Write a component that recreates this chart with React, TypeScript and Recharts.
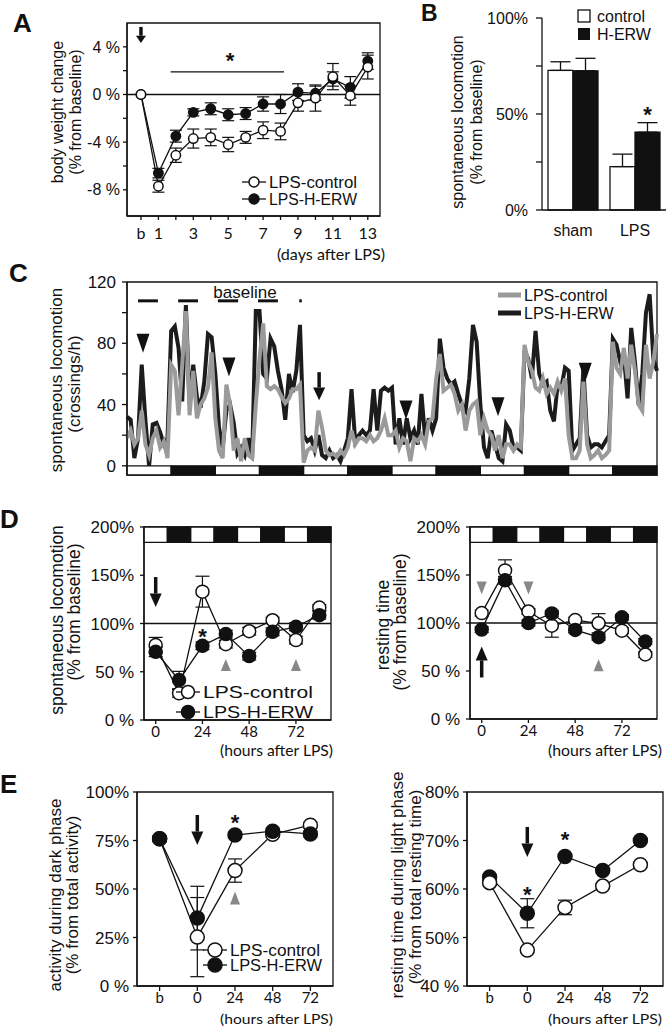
import { LineChart, Line, BarChart, Bar, XAxis, YAxis, ErrorBar, ReferenceLine, ReferenceArea, ReferenceDot, LabelList } from "recharts";

const SANS = "'Liberation Sans', Arial, sans-serif";
const ALT = "Lato, 'Open Sans', sans-serif";
const INK = "#111";
const GREY = "#9a9a9a";

// ---- A: body weight change (% from baseline); day 0 is the baseline "b"
const days = [0, 1, 2, 3, 4, 5, 6, 7, 8, 9, 10, 11, 12, 13];
const bwControl = [0, -7.7, -5.1, -3.7, -3.6, -4.2, -3.6, -3.0, -3.1, -0.7, -0.3, 1.5, -0.1, 2.3];
const bwControlErr = [0, 0.5, 0.6, 0.8, 0.7, 0.6, 0.5, 0.7, 0.7, 0.7, 1.1, 1.1, 0.8, 1.0];
const bwErw = [0, -6.6, -3.5, -1.5, -1.2, -1.7, -1.6, -0.8, -0.8, 0.2, 0.1, 1.3, 0.6, 2.8];
const bwErwErr = [0, 0.4, 0.5, 0.3, 0.5, 0.5, 0.5, 0.6, 0.8, 0.7, 0.6, 0.6, 0.9, 0.7];

// ---- B: spontaneous locomotion
const groups = ["sham", "LPS"];
const locoControl = [72.7, 22.6];
const locoControlErr = [4.5, 6.5];
const locoErw = [72.5, 40.5];
const locoErwErr = [6.5, 5];

// ---- C: hourly crossings, 6 days (hour 0..144)
const erwHourly = [
  32, 30, 5, 18, 66, 30, 0, 27, 28, 22, 14, 18,
  88, 91, 77, 42, 105, 40, 66, 45, 38, 55, 86, 84,
  60, 25, 12, 36, 40, 28, 8, 12, 7, 18, 5, 101,
  101, 60, 57, 83, 78, 62, 50, 30, 60, 48, 62, 92,
  20, 16, 18, 10, 20, 7, 5, 10, 5, 7, 3, 10,
  18, 50, 16, 20, 23, 20, 23, 50, 23, 49, 51, 49,
  51, 14, 31, 14, 31, 18, 23, 14, 47, 18, 31, 23,
  31, 83, 64, 57, 53, 55, 47, 40, 36, 57, 92, 81,
  40, 12, 5, 23, 14, 5, 3, 27, 23, 12, 12, 10,
  75, 70, 57, 88, 60, 53, 55, 36, 29, 53, 51, 64,
  62, 10, 14, 18, 64, 20, 12, 14, 14, 12, 16, 20,
  83, 79, 68, 72, 44, 90, 68, 40, 60, 100, 112, 70, 62,
];
const controlHourly = [
  18, 23, 14, 18, 36, 14, 7, 18, 23, 12, 16, 5,
  66, 62, 33, 66, 101, 33, 62, 31, 40, 44, 51, 74,
  31, 10, 5, 53, 40, 10, 18, 3, 18, 7, 5, 40,
  70, 93, 52, 50, 52, 50, 45, 41, 44, 50, 50, 53,
  2, 10, 12, 10, 36, 25, 10, 7, 8, 6, 10, 7,
  12, 23, 14, 18, 18, 16, 20, 16, 18, 23, 31, 20,
  20, 23, 12, 18, 16, 3, 18, 16, 20, 14, 29, 31,
  57, 73, 49, 51, 53, 47, 36, 40, 23, 36, 40, 42,
  20, 31, 23, 20, 10, 20, 5, 14, 14, 10, 14, 12,
  79, 68, 62, 51, 49, 57, 47, 51, 47, 55, 49, 57,
  20, 5, 5, 10, 55, 14, 5, 7, 10, 5, 7, 10,
  81, 64, 60, 77, 57, 79, 62, 40, 36, 79, 57, 68, 86,
];

// ---- D: 12 h bins after LPS
const hours12 = [0, 12, 24, 36, 48, 60, 72, 84];
const locoD_control = [77.6, 27.6, 133, 78.6, 92, 103.4, 82.8, 116.5];
const locoD_controlErr = [8, 4, 16, 4, 4, 3, 4, 3];
const locoD_erw = [70.7, 41.4, 76.9, 89, 66.2, 91.4, 96.6, 108.6];
const locoD_erwErr = [5, 9, 4, 4, 4, 4, 4, 4];
const restD_control = [110.3, 154.8, 112, 97.2, 103, 99.7, 92, 67.2];
const restD_controlErr = [3, 11, 3, 12, 3, 10, 3, 3];
const restD_erw = [93.1, 144.5, 100, 110, 92.8, 85.2, 105.9, 80.7];
const restD_erwErr = [3, 4, 3, 3, 3, 3, 3, 3];

// ---- E: daily phase distribution
const eLabels = ["b", "0", "24", "48", "72"];
const darkAct_control = [75.9, 25.2, 59.5, 78.2, 82.9];
const darkAct_controlErr = [1.5, 20.4, 6, 1.5, 1.5];
const darkAct_erw = [75.9, 35, 77.8, 79.8, 78.4];
const darkAct_erwErr = [1.5, 16.4, 1.5, 1.5, 1.5];
const lightRest_control = [61.3, 47.4, 56.2, 60.6, 65];
const lightRest_controlErr = [0.5, 0.5, 1.5, 0.5, 0.5];
const lightRest_erw = [62.5, 55, 66.7, 63.8, 70];
const lightRest_erwErr = [0.5, 3, 0.5, 0.5, 0.5];

const bwData = days.map((d, i) => ({ day: d, c: bwControl[i], ce: bwControlErr[i], h: bwErw[i], he: bwErwErr[i] }));
const bData = groups.map((g, i) => ({ g, c: locoControl[i], ce: [0, locoControlErr[i]], h: locoErw[i], he: [0, locoErwErr[i]] }));
const cData = erwHourly.map((v, i) => ({ t: i, h: v, c: controlHourly[i] }));
const dLoco = hours12.map((t, i) => ({ t, c: locoD_control[i], ce: locoD_controlErr[i], h: locoD_erw[i], he: locoD_erwErr[i] }));
const dRest = hours12.map((t, i) => ({ t, c: restD_control[i], ce: restD_controlErr[i], h: restD_erw[i], he: restD_erwErr[i] }));
const eDark = eLabels.map((_, i) => ({ i, c: darkAct_control[i], ce: darkAct_controlErr[i], h: darkAct_erw[i], he: darkAct_erwErr[i] }));
const eRest = eLabels.map((_, i) => ({ i, c: lightRest_control[i], ce: lightRest_controlErr[i], h: lightRest_erw[i], he: lightRest_erwErr[i] }));

// position a chart so that its plot area lands on the given box
const place = (x0: number, y0: number, x1: number, y1: number, l: number, t: number, r: number, b: number) => ({
  style: { position: "absolute" as const, left: x0 - l, top: y0 - t },
  width: x1 - x0 + l + r,
  height: y1 - y0 + t + b,
  top: t,
});

const openDot = (r: number) => ({ r, fill: "#fff", stroke: INK, strokeWidth: 1.5 });
const fullDot = (r: number) => ({ r, fill: INK, stroke: INK, strokeWidth: 1.5 });
const axisStroke = { stroke: INK, strokeWidth: 1.3 };
const tickFont = (fs: number) => ({ fontSize: fs, fill: INK, fontFamily: SANS });
const xTickFont = (fs: number) => ({ fontSize: fs, fill: INK, fontFamily: ALT });

const star = (fs: number) => (p: any) => (
  <text x={p.cx} y={p.cy + fs * 0.55} textAnchor="middle" fontSize={fs} fontWeight={700} fontFamily={SANS} fill={INK}>*</text>
);
const arrow = (len: number, hw: number, up = false) => (p: any) => {
  const s = up ? -1 : 1;
  const tip = p.cy + (s * len) / 2;
  const tail = p.cy - (s * len) / 2;
  const neck = tip - s * len * 0.45;
  return (
    <g>
      <line x1={p.cx} y1={tail} x2={p.cx} y2={neck} stroke={INK} strokeWidth={3.5} />
      <path d={`M${p.cx - hw},${neck} L${p.cx + hw},${neck} L${p.cx},${tip} Z`} fill={INK} />
    </g>
  );
};
const tri = (w: number, h: number, down: boolean, color: string) => (p: any) => {
  const s = down ? 1 : -1;
  return <path d={`M${p.cx - w / 2},${p.cy - (s * h) / 2} L${p.cx + w / 2},${p.cy - (s * h) / 2} L${p.cx},${p.cy + (s * h) / 2} Z`} fill={color} />;
};

const phasesC = Array.from({ length: 12 }, (_, i) => i * 12);
const phasesD = Array.from({ length: 8 }, (_, i) => i * 12 - 6);

const pA = place(127, 23, 380, 216, 127, 23, 4, 30);
const pB = place(542, 18, 666, 210, 60, 18, 1, 34);
const pC = place(127, 282, 657, 475, 60, 14, 5, 5);
const pD1 = place(144, 527, 331, 720, 60, 14, 2, 24);
const pD2 = place(470, 527, 657, 719, 60, 14, 2, 24);
const pE1 = place(137, 792, 333, 986, 60, 14, 2, 28);
const pE2 = place(467, 792, 663, 986, 60, 14, 2, 28);

const DPanel = ({ p, data, order, notes }: any) => (
  <div style={p.style}>
    <LineChart width={p.width} height={p.height} data={data} margin={{ top: p.top, right: 2, left: 0, bottom: 0 }}>
      <XAxis dataKey="t" type="number" domain={[-6, 90]} allowDataOverflow ticks={[0, 24, 48, 72]} interval={0} height={24}
        tickSize={4} tickMargin={2} tick={xTickFont(15)} axisLine={axisStroke} tickLine={axisStroke} />
      <YAxis type="number" domain={[0, 200]} allowDataOverflow ticks={[0, 50, 100, 150, 200]} interval={0} width={60}
        tickFormatter={(v: number) => (v === 0 ? "0 %" : v === 50 ? "50 %" : `${v}%`)}
        tickSize={4} tickMargin={6} tick={tickFont(17)} axisLine={axisStroke} tickLine={axisStroke} />
      <ReferenceArea x1={-6} x2={90} y1={0} y2={200} fill="none" stroke={INK} strokeWidth={1.3} />
      {phasesD.map((s, i) => (
        <ReferenceArea key={s} x1={s} x2={s + 12} y1={184} y2={200} fill={i % 2 ? INK : "#fff"} fillOpacity={1} stroke={INK} strokeWidth={1.3} />
      ))}
      <ReferenceLine y={100} stroke={INK} strokeWidth={1.3} />
      {order.map((k: string) => (
        <Line key={k} dataKey={k} type="linear" stroke={INK} strokeWidth={1.3} isAnimationActive={false} activeDot={false}
          dot={k === "c" ? openDot(6.5) : fullDot(6.5)}>
          <ErrorBar dataKey={k + "e"} width={7} stroke={INK} strokeWidth={1.2} direction="y" />
        </Line>
      ))}
      {notes}
    </LineChart>
  </div>
);

const EPanel = ({ p, data, domain, ticks, fmt, order, notes }: any) => (
  <div style={p.style}>
    <LineChart width={p.width} height={p.height} data={data} margin={{ top: p.top, right: 2, left: 0, bottom: 0 }}>
      <XAxis dataKey="i" type="number" domain={[-0.6, 4.6]} allowDataOverflow ticks={[0, 1, 2, 3, 4]} interval={0} height={28}
        tickFormatter={(v: number) => eLabels[v]} tickSize={5} tickMargin={1} tick={xTickFont(15)} axisLine={axisStroke} tickLine={axisStroke} />
      <YAxis type="number" domain={domain} allowDataOverflow ticks={ticks} interval={0} width={60} tickFormatter={fmt}
        tickSize={4} tickMargin={4} tick={tickFont(17)} axisLine={axisStroke} tickLine={axisStroke} />
      <ReferenceArea x1={-0.6} x2={4.6} y1={domain[0]} y2={domain[1]} fill="none" stroke={INK} strokeWidth={1.3} />
      {order.map((k: string) => (
        <Line key={k} dataKey={k} type="linear" stroke={INK} strokeWidth={1.3} isAnimationActive={false} activeDot={false}
          dot={k === "c" ? openDot(7) : fullDot(7)}>
          <ErrorBar dataKey={k + "e"} width={7} stroke={INK} strokeWidth={1.2} direction="y" />
        </Line>
      ))}
      {notes}
    </LineChart>
  </div>
);

const VTitle = ({ x, y, text, fs }: any) => (
  <text transform={`translate(${x},${y}) rotate(-90)`} textAnchor="middle" dominantBaseline="central" fontSize={fs} fontFamily={SANS} fill={INK}>{text}</text>
);

const LegendRow = ({ x, y, open, text, fs, r, w }: any) => (
  <g>
    <line x1={x - 12} x2={x + 12} y1={y} y2={y} stroke={INK} strokeWidth={1.3} />
    <circle cx={x} cy={y} r={r} fill={open ? "#fff" : INK} stroke={INK} strokeWidth={1.5} />
    <text x={x + 15} y={y} dominantBaseline="central" fontSize={fs} fontFamily={SANS} fill={INK} textLength={w} lengthAdjust="spacingAndGlyphs">{text}</text>
  </g>
);

export default function App() {
  return (
    <div style={{ position: "absolute", left: 0, top: 0, width: 667, height: 1027, background: "#fff", overflow: "hidden" }}>
      {/* A */}
      <div style={pA.style}>
        <LineChart width={pA.width} height={pA.height} data={bwData} margin={{ top: 23, right: 4, left: 0, bottom: 0 }}>
          <XAxis dataKey="day" type="number" domain={[-0.8, 13.7]} allowDataOverflow ticks={days} interval={0} height={30}
            tickFormatter={(v: number) => (v === 0 ? "b" : v % 2 ? String(v) : "")}
            tickSize={4} tickMargin={8} tick={xTickFont(16)} axisLine={axisStroke} tickLine={axisStroke} />
          <YAxis type="number" domain={[-10.2, 6]} allowDataOverflow ticks={[-8, -6, -4, -2, 0, 2, 4]} interval={0} width={127}
            tickFormatter={(v: number) => (v % 4 === 0 ? `${v} %` : "")}
            tickSize={4} tickMargin={3} tick={tickFont(16)} axisLine={axisStroke} tickLine={axisStroke} />
          <ReferenceArea x1={-0.8} x2={13.7} y1={-10.2} y2={6} fill="none" stroke={INK} strokeWidth={1.3} />
          <ReferenceLine y={0} stroke={INK} strokeWidth={1.3} />
          <ReferenceLine segment={[{ x: 1.7, y: 1.9 }, { x: 8.2, y: 1.9 }]} stroke={INK} strokeWidth={1.3} />
          <ReferenceDot x={5.1} y={3.2} r={0} ifOverflow="visible" shape={star(22)} />
          <ReferenceDot x={0} y={5} r={0} ifOverflow="visible" shape={arrow(16, 5)} />
          <Line dataKey="h" type="linear" stroke={INK} strokeWidth={1.3} isAnimationActive={false} activeDot={false} dot={fullDot(4.7)}>
            <ErrorBar dataKey="he" width={6} stroke={INK} strokeWidth={1.2} direction="y" />
          </Line>
          <Line dataKey="c" type="linear" stroke={INK} strokeWidth={1.3} isAnimationActive={false} activeDot={false} dot={openDot(4.7)}>
            <ErrorBar dataKey="ce" width={6} stroke={INK} strokeWidth={1.2} direction="y" />
          </Line>
        </LineChart>
      </div>

      {/* B */}
      <div style={pB.style}>
        <BarChart width={pB.width} height={pB.height} data={bData} margin={{ top: pB.top, right: 1, left: 0, bottom: 0 }} barGap={0} barSize={25}>
          <XAxis dataKey="g" height={34} tickLine={false} tickMargin={9} tick={tickFont(16)} axisLine={axisStroke} />
          <YAxis type="number" domain={[0, 100]} ticks={[0, 25, 50, 75, 100]} interval={0} width={60}
            tickFormatter={(v: number) => (v % 50 === 0 ? `${v}%` : "")}
            tickSize={6} tickMargin={8} tick={tickFont(16)} axisLine={axisStroke} tickLine={axisStroke} />
          <Bar dataKey="c" fill="#fff" stroke={INK} strokeWidth={1.3} isAnimationActive={false}>
            <ErrorBar dataKey="ce" width={10} stroke={INK} strokeWidth={1.3} direction="y" />
          </Bar>
          <Bar dataKey="h" fill={INK} stroke={INK} strokeWidth={1.3} isAnimationActive={false}>
            <ErrorBar dataKey="he" width={10} stroke={INK} strokeWidth={1.3} direction="y" />
            <LabelList content={(p: any) => (p.index === 1 ? (
              <text x={p.x + p.width / 2} y={p.y - 10} textAnchor="middle" fontSize={22} fontWeight={700} fontFamily={SANS} fill={INK}>*</text>
            ) : null)} />
          </Bar>
        </BarChart>
      </div>

      {/* C */}
      <div style={pC.style}>
        <LineChart width={pC.width} height={pC.height} data={cData} margin={{ top: pC.top, right: 5, left: 0, bottom: 5 }}>
          <XAxis dataKey="t" type="number" domain={[0, 144]} hide />
          <YAxis type="number" domain={[-6, 120]} allowDataOverflow ticks={[0, 20, 40, 60, 80, 100, 120]} interval={0} width={60}
            tickFormatter={(v: number) => (v % 40 === 0 ? String(v) : "")}
            tickSize={5} tickMargin={6} tick={tickFont(17)} axisLine={axisStroke} tickLine={axisStroke} />
          <ReferenceArea x1={0} x2={144} y1={-6} y2={120} fill="none" stroke={INK} strokeWidth={1.3} />
          {phasesC.map((s, i) => (
            <ReferenceArea key={s} x1={s} x2={s + 12} y1={-6} y2={0} fill={i % 2 ? INK : "#fff"} fillOpacity={1} stroke={INK} strokeWidth={1.3} />
          ))}
          {[[3, 8.4], [13.9, 19.3], [24.7, 30.2], [35.6, 41], [46.8, 47.5]].map(([a, b]) => (
            <ReferenceLine key={a} segment={[{ x: a, y: 107.7 }, { x: b, y: 107.7 }]} stroke={INK} strokeWidth={3} />
          ))}
          <Line dataKey="h" type="linear" stroke="#1c1c1c" strokeWidth={4} dot={false} activeDot={false} isAnimationActive={false} />
          <Line dataKey="c" type="linear" stroke={GREY} strokeWidth={4} dot={false} activeDot={false} isAnimationActive={false} />
          <ReferenceDot x={4.35} y={80} r={0} ifOverflow="visible" shape={tri(13, 19, true, INK)} />
          <ReferenceDot x={27.7} y={64.5} r={0} ifOverflow="visible" shape={tri(13, 19, true, INK)} />
          <ReferenceDot x={52.2} y={52} r={0} ifOverflow="visible" shape={arrow(28, 6)} />
          <ReferenceDot x={75.8} y={36.5} r={0} ifOverflow="visible" shape={tri(13, 19, true, INK)} />
          <ReferenceDot x={100.8} y={38.5} r={0} ifOverflow="visible" shape={tri(13, 19, true, INK)} />
          <ReferenceDot x={124.5} y={61} r={0} ifOverflow="visible" shape={tri(13, 19, true, INK)} />
        </LineChart>
      </div>

      {/* D */}
      <DPanel p={pD1} data={dLoco} order={["c", "h"]} notes={[
        <ReferenceDot key="a" x={0} y={132.6} r={0} ifOverflow="visible" shape={arrow(30, 6)} />,
        <ReferenceDot key="s" x={24} y={91} r={0} ifOverflow="visible" shape={star(22)} />,
        <ReferenceDot key="t1" x={36} y={57} r={0} ifOverflow="visible" shape={tri(10, 12, false, "#888")} />,
        <ReferenceDot key="t2" x={72} y={57} r={0} ifOverflow="visible" shape={tri(10, 12, false, "#888")} />,
      ]} />
      <DPanel p={pD2} data={dRest} order={["c", "h"]} notes={[
        <ReferenceDot key="a" x={0} y={59.4} r={0} ifOverflow="visible" shape={arrow(31, 6, true)} />,
        <ReferenceDot key="t1" x={0} y={136.5} r={0} ifOverflow="visible" shape={tri(10, 13, true, "#888")} />,
        <ReferenceDot key="t2" x={24} y={136.5} r={0} ifOverflow="visible" shape={tri(10, 13, true, "#888")} />,
        <ReferenceDot key="t3" x={60} y={56} r={0} ifOverflow="visible" shape={tri(10, 12, false, "#888")} />,
      ]} />

      {/* E */}
      <EPanel p={pE1} data={eDark} domain={[0, 100]} ticks={[0, 25, 50, 75, 100]} order={["c", "h"]}
        fmt={(v: number) => (v === 0 ? "0 %" : `${v}%`)} notes={[
          <ReferenceDot key="a" x={1} y={80.4} r={0} ifOverflow="visible" shape={arrow(30, 6)} />,
          <ReferenceDot key="s" x={2} y={86.6} r={0} ifOverflow="visible" shape={star(22)} />,
          <ReferenceDot key="t" x={2} y={45.4} r={0} ifOverflow="visible" shape={tri(10, 13, false, "#888")} />,
        ]} />
      <EPanel p={pE2} data={eRest} domain={[40, 80]} ticks={[40, 50, 60, 70, 80]} order={["h", "c"]}
        fmt={(v: number) => (v === 40 ? "40 %" : `${v}%`)} notes={[
          <ReferenceDot key="a" x={1} y={69.7} r={0} ifOverflow="visible" shape={arrow(30, 6)} />,
          <ReferenceDot key="s1" x={1} y={59.8} r={0} ifOverflow="visible" shape={star(22)} />,
          <ReferenceDot key="s2" x={2} y={71.1} r={0} ifOverflow="visible" shape={star(22)} />,
        ]} />

      {/* titles, panel letters and legends */}
      <svg width={667} height={1027} style={{ position: "absolute", left: 0, top: 0, pointerEvents: "none" }}>
        <g fontFamily={SANS} fontWeight={700} fill={INK}>
          <text x={13} y={32} fontSize={26}>A</text>
          <text x={421} y={21} fontSize={23}>B</text>
          <text x={9} y={282} fontSize={26}>C</text>
          <text x={0} y={528} fontSize={26}>D</text>
          <text x={0} y={793} fontSize={26}>E</text>
        </g>

        <VTitle x={57} y={112} fs={16} text="body weight change" />
        <VTitle x={75} y={112} fs={16} text="(% from baseline)" />
        <VTitle x={457} y={122} fs={16} text="spontaneous locomotion" />
        <VTitle x={476} y={122} fs={16} text="(% from baseline)" />
        <VTitle x={56} y={380} fs={17} text="spontaneous locomotion" />
        <VTitle x={74} y={384} fs={17} text="(crossings/h)" />
        <VTitle x={57} y={620} fs={17.5} text="spontaneous locomotion" />
        <VTitle x={74} y={612} fs={17.5} text="(% from baseline)" />
        <VTitle x={383} y={625} fs={17.5} text="resting time" />
        <VTitle x={400} y={622} fs={17.5} text="(% from baseline)" />
        <VTitle x={55} y={895} fs={17} text="activity during dark phase" />
        <VTitle x={72} y={895} fs={17} text="(% from total activity)" />
        <VTitle x={397} y={885} fs={17} text="resting time during light phase" />
        <VTitle x={415} y={887} fs={17} text="(% from total resting time)" />

        <g fontFamily={ALT} fill={INK}>
          <text x={277} y={260} fontSize={15} textLength={108} lengthAdjust="spacingAndGlyphs">(days after LPS)</text>
          <text x={220} y={756} fontSize={15} textLength={113} lengthAdjust="spacingAndGlyphs">(hours after LPS)</text>
          <text x={548} y={756} fontSize={15} textLength={114} lengthAdjust="spacingAndGlyphs">(hours after LPS)</text>
          <text x={220} y={1024} fontSize={14} textLength={113} lengthAdjust="spacingAndGlyphs">(hours after LPS)</text>
          <text x={548} y={1024} fontSize={14} textLength={114} lengthAdjust="spacingAndGlyphs">(hours after LPS)</text>
        </g>

        <text x={245} y={298} textAnchor="middle" fontFamily={SANS} fontSize={17} fill={INK}>baseline</text>

        {/* legend A */}
        <LegendRow x={254} y={182} open text="LPS-control" fs={16} r={5} w={88} />
        <LegendRow x={254} y={199} open={false} text="LPS-H-ERW" fs={16} r={5} w={88} />
        {/* legend B */}
        <rect x={578} y={10} width={12} height={12} fill="#fff" stroke={INK} strokeWidth={1.3} />
        <rect x={578} y={28} width={12} height={12} fill={INK} />
        <text x={597} y={16} dominantBaseline="central" fontFamily={SANS} fontSize={16} fill={INK}>control</text>
        <text x={597} y={34} dominantBaseline="central" fontFamily={SANS} fontSize={16} fill={INK}>H-ERW</text>
        {/* legend C */}
        <line x1={498} x2={521} y1={295} y2={295} stroke={GREY} strokeWidth={5} />
        <line x1={498} x2={521} y1={313} y2={313} stroke="#1c1c1c" strokeWidth={5} />
        <text x={524} y={295} dominantBaseline="central" fontFamily={SANS} fontSize={16} fill={INK}>LPS-control</text>
        <text x={524} y={313} dominantBaseline="central" fontFamily={SANS} fontSize={16} fill={INK}>LPS-H-ERW</text>
        {/* legend D */}
        <LegendRow x={188} y={692} open text="LPS-control" fs={17} r={6.5} w={110} />
        <LegendRow x={188} y={712} open={false} text="LPS-H-ERW" fs={17} r={6.5} w={110} />
        {/* legend E */}
        <LegendRow x={215} y={950} open text="LPS-control" fs={16} r={7} w={90} />
        <LegendRow x={215} y={965} open={false} text="LPS-H-ERW" fs={16} r={7} w={92} />
      </svg>
    </div>
  );
}
